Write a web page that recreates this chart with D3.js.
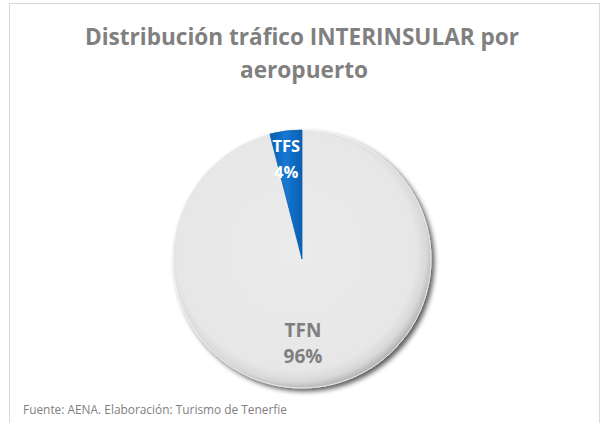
<!DOCTYPE html>
<html>
<head>
<meta charset="utf-8">
<script src="https://cdn.jsdelivr.net/npm/d3@7"></script>
<style>
  body { margin: 0; background: #fff; }
  text { font-family: "Open Sans", "Noto Sans", sans-serif; }
</style>
</head>
<body>
<script>
// data
const airports = ["TFN", "TFS"];
const shares = [96, 4];
const labelColors = ["#7f7f7f", "#ffffff"];

const WIDTH = 604, HEIGHT = 423;
const cx = 302, cy = 259, R = 129;

const svg = d3.select("body").append("svg")
  .attr("width", WIDTH).attr("height", HEIGHT);

const defs = svg.append("defs");

// shadow round the pie
const f = defs.append("filter").attr("id", "shadow")
  .attr("x", "-20%").attr("y", "-20%").attr("width", "140%").attr("height", "140%");
f.append("feGaussianBlur").attr("in", "SourceAlpha").attr("stdDeviation", 2.5);
f.append("feOffset").attr("dx", 2.5).attr("dy", 3).attr("result", "b");
f.append("feComponentTransfer").append("feFuncA").attr("type", "linear").attr("slope", 0.65);
const m = f.append("feMerge");
m.append("feMergeNode");
m.append("feMergeNode").attr("in", "SourceGraphic");

// slight bevel on the grey slice, lit from the top left
const g1 = defs.append("radialGradient").attr("id", "grey")
  .attr("gradientUnits", "userSpaceOnUse")
  .attr("cx", -6).attr("cy", -8).attr("r", R + 10);
g1.append("stop").attr("offset", "0%").attr("stop-color", "#ebebeb");
g1.append("stop").attr("offset", "86%").attr("stop-color", "#e7e7e7");
g1.append("stop").attr("offset", "94%").attr("stop-color", "#d8d8d8");
g1.append("stop").attr("offset", "100%").attr("stop-color", "#b0b0b0");

const g2 = defs.append("linearGradient").attr("id", "blue")
  .attr("x1", "0").attr("y1", "0").attr("x2", "1").attr("y2", "0");
g2.append("stop").attr("offset", "0%").attr("stop-color", "#0a5fb0");
g2.append("stop").attr("offset", "50%").attr("stop-color", "#1478d4");
g2.append("stop").attr("offset", "100%").attr("stop-color", "#0a5fb0");

const fills = ["url(#grey)", "url(#blue)"];

// frame
svg.append("rect")
  .attr("x", 9.5).attr("y", 3.5).attr("width", 590).attr("height", 430)
  .attr("fill", "none").attr("stroke", "#d9d9d9").attr("stroke-width", 1);

// title
svg.append("text")
  .attr("x", 85).attr("y", 45)
  .attr("font-size", 24).attr("font-weight", "bold").attr("fill", "#808080")
  .attr("textLength", 434).attr("lengthAdjust", "spacingAndGlyphs")
  .text("Distribución tráfico INTERINSULAR por");
svg.append("text")
  .attr("x", 240).attr("y", 78)
  .attr("font-size", 24).attr("font-weight", "bold").attr("fill", "#808080")
  .attr("textLength", 128).attr("lengthAdjust", "spacingAndGlyphs")
  .text("aeropuerto");

const pie = d3.pie().sort(null).value(d => d)(shares);
const arc = d3.arc().innerRadius(0).outerRadius(R);

const gPie = svg.append("g").attr("transform", `translate(${cx},${cy})`);

gPie.append("g").attr("filter", "url(#shadow)")
  .selectAll("path")
  .data(pie)
  .join("path")
  .attr("d", arc)
  .attr("fill", (d, i) => fills[i])
  .attr("stroke", (d, i) => i === 0 ? "#f2f2f2" : "#0a5fb0")
  .attr("stroke-width", 0.8);

// labels
pie.forEach((d, i) => {
  const c = d3.arc().innerRadius(R * 0.85).outerRadius(R * 0.85).centroid(d);
  const x = i === 0 ? 1 : c[0] - 2;
  const y1 = i === 0 ? 78 : -107;
  const fs = i === 0 ? 19 : 16.5;
  gPie.append("text")
    .attr("x", x).attr("y", y1)
    .attr("text-anchor", "middle")
    .attr("font-size", fs).attr("font-weight", "bold")
    .attr("fill", labelColors[i])
    .text(airports[i]);
  gPie.append("text")
    .attr("x", x).attr("y", y1 + 26)
    .attr("text-anchor", "middle")
    .attr("font-size", fs).attr("font-weight", "bold")
    .attr("fill", labelColors[i])
    .text(shares[i] + "%");
});

// source
svg.append("text")
  .attr("x", 23).attr("y", 414)
  .attr("font-size", 12.5).attr("fill", "#7f7f7f")
  .attr("textLength", 264).attr("lengthAdjust", "spacingAndGlyphs")
  .text("Fuente: AENA. Elaboración: Turismo de Tenerfie");
</script>
</body>
</html>
